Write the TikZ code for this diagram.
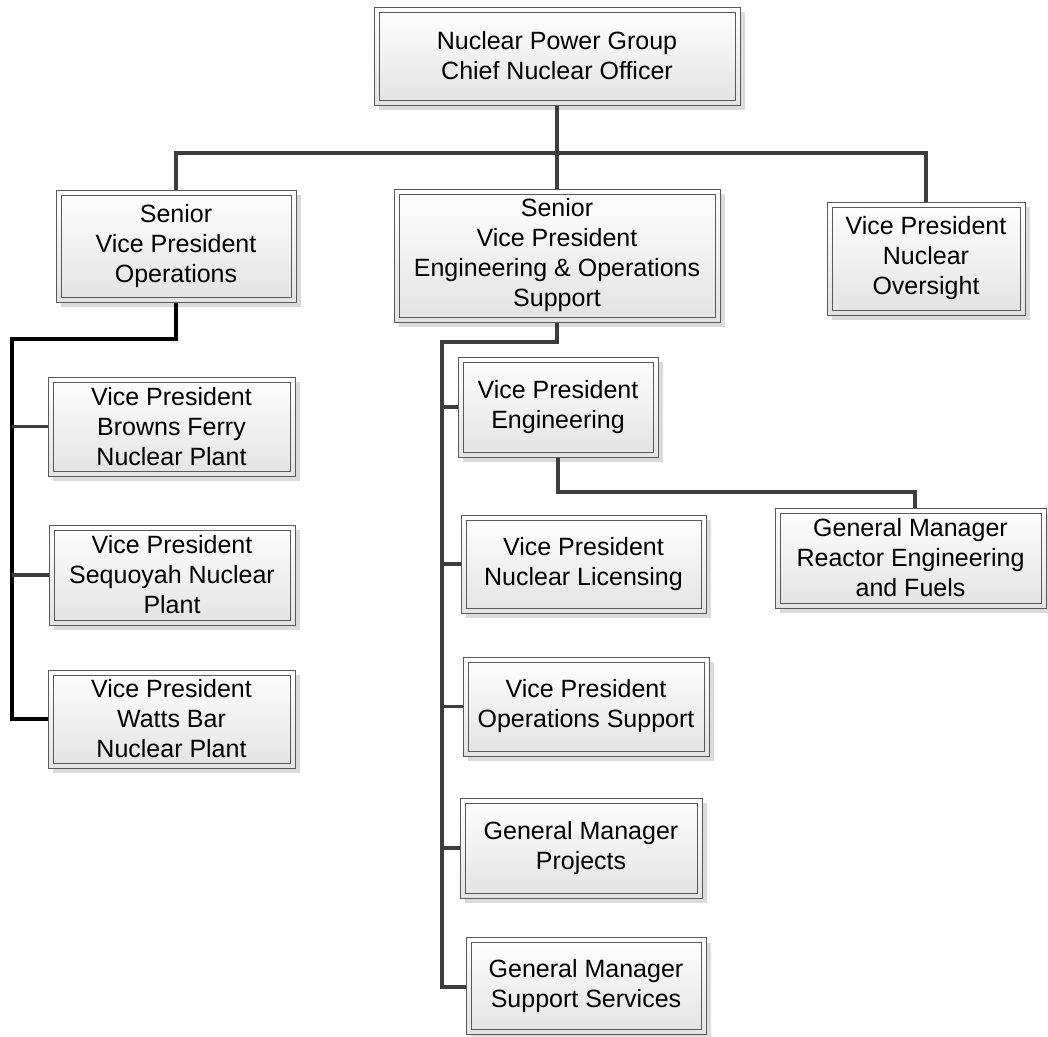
\documentclass[tikz,border=0pt]{standalone}
\usepackage{fontspec}
\setmainfont{Liberation Sans}
\usetikzlibrary{shadows}
\tikzset{
  orgbox/.style 2 args={rectangle, draw=black!65, line width=1pt,
    top color=white, bottom color=black!11, inner sep=0pt, align=center,
    minimum width=#1pt, minimum height=#2pt,
    font=\fontsize{25}{30}\selectfont, text=black,
    drop shadow={shadow xshift=5pt, shadow yshift=-5pt, opacity=1, fill=black!14},
    path picture={\draw[black!65, line width=1pt]
      ([shift={(5pt,-5pt)}]path picture bounding box.north west) rectangle
      ([shift={(-5pt,5pt)}]path picture bounding box.south east);}},
  conn/.style={draw=black!76, line width=3.2pt},
  connb/.style={draw=black, line width=3.4pt},
}
\begin{document}
\begin{tikzpicture}[x=1pt,y=-1pt]
\useasboundingbox (0,0) rectangle (1048,1036);
% level 1
\node[orgbox={366}{98}] (top) at (557,56) {Nuclear Power Group\\Chief Nuclear Officer};
% level 2
\node[orgbox={240}{112}] (ops) at (176,246) {Senior\\Vice President\\Operations};
\node[orgbox={326}{133}] (eng) at (557,255.5) {Senior\\Vice President\\Engineering \& Operations\\Support};
\node[orgbox={198}{113}] (over) at (926,258.5) {Vice President\\Nuclear\\Oversight};
% left group
\node[orgbox={247}{99}] (browns) at (171.5,426.5) {Vice President\\Browns Ferry\\Nuclear Plant};
\node[orgbox={246}{100}] (sequoyah) at (172,575) {Vice President\\Sequoyah Nuclear\\Plant};
\node[orgbox={247}{98}] (watts) at (171.5,719) {Vice President\\Watts Bar\\Nuclear Plant};
% middle group
\node[orgbox={200}{100}] (vpeng) at (558,407) {Vice President\\Engineering};
\node[orgbox={245}{98}] (lic) at (583.5,564) {Vice President\\Nuclear Licensing};
\node[orgbox={246}{99}] (opsup) at (586,706.5) {Vice President\\Operations Support};
\node[orgbox={242}{100}] (proj) at (581,848) {General Manager\\Projects};
\node[orgbox={240}{97}] (supp) at (586,986) {General Manager\\Support Services};
\node[orgbox={271}{100}] (reactor) at (910.5,558) {General Manager\\Reactor Engineering\\and Fuels};
% coordinates
\coordinate (b1) at (176,153);
\coordinate (b3) at (926,153);
\coordinate (l1) at (176,339);
\coordinate (l2) at (12,339);
\coordinate (l3) at (12,719);
\coordinate (m1) at (557,342);
\coordinate (m2) at (442,342);
\coordinate (m3) at (442,987);
\coordinate (r1) at (558,492);
\coordinate (r2) at (915,492);
% connectors
\draw[conn] (top.south) -- (eng.north);
\draw[conn] (ops.north) -- (b1) -- (b3) -- (over.north);
\draw[connb] (ops.south) -- (l1) -- (l2) -- (l3) -- (watts.west);
\draw[conn] (browns.west -| l2) -- (browns.west);
\draw[conn] (sequoyah.west -| l2) -- (sequoyah.west);
\draw[conn] (eng.south) -- (m1) -- (m2) -- (m3) -- (m3 -| supp.west);
\draw[conn] (vpeng.west -| m2) -- (vpeng.west);
\draw[conn] (lic.west -| m2) -- (lic.west);
\draw[conn] (opsup.west -| m2) -- (opsup.west);
\draw[conn] (proj.west -| m2) -- (proj.west);
\draw[conn] (vpeng.south) -- (r1) -- (r2) -- (reactor.north -| r2);
\end{tikzpicture}
\end{document}
